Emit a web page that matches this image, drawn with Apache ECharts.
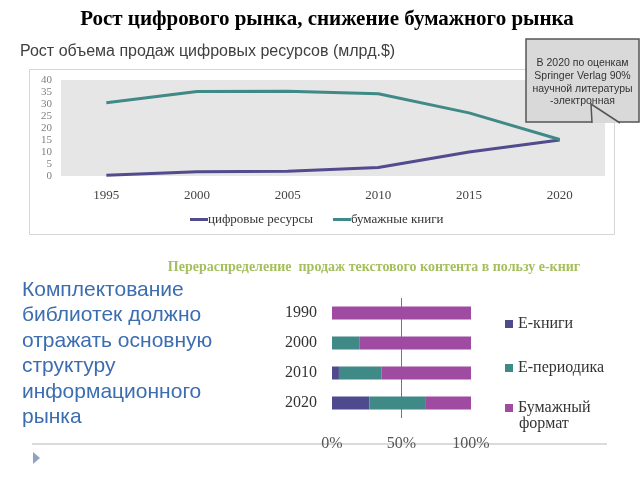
<!DOCTYPE html>
<html><head><meta charset="utf-8">
<script src="https://cdn.jsdelivr.net/npm/echarts@6/dist/echarts.min.js"></script>
<style>html,body{margin:0;padding:0;background:#fff}#c{width:640px;height:480px}</style>
</head><body><div id="c"></div>
<script>
// Line chart data
const lineYears = ['1995','2000','2005','2010','2015','2020'];
const digital = [0.3, 1.8, 2.0, 3.5, 10.0, 15.0];
const paper = [30.5, 35.2, 35.3, 34.3, 26.3, 15.2];
const lineYTicks = [0, 40, 5];
// Bar chart data
const barYears = ['1990','2000','2010','2020'];
const eBooks = [0, 0, 5, 27];
const ePeriodic = [0, 20, 30.5, 40];
const paperFormat = [100, 80, 64.5, 33];

const serif = 'Liberation Serif';
const sans = 'Liberation Sans';
const cPurple = '#524b8d', cTeal = '#3f8a86', cMagenta = '#9f4ba2';

const chart = echarts.init(document.getElementById('c'), null, {renderer:'canvas'});
chart.setOption({
  animation: false,
  grid: [
    {left: 61, right: 35, top: 80, height: 96, show: true, backgroundColor: '#e6e6e6', borderWidth: 0},
    {left: 332, width: 139, top: 298, height: 120}
  ],
  xAxis: [
    {gridIndex: 0, type: 'category', data: lineYears, boundaryGap: true,
     axisLine: {show: false}, axisTick: {show: false},
     axisLabel: {margin: 13, fontFamily: serif, fontSize: 13, color: '#444'}},
    {gridIndex: 1, type: 'value', min: 0, max: 100, interval: 50,
     axisLine: {show: false}, axisTick: {show: false}, splitLine: {show: false},
     axisLabel: {margin: 18, fontFamily: serif, fontSize: 16, color: '#555', formatter: '{value}%'}}
  ],
  yAxis: [
    {gridIndex: 0, type: 'value', min: lineYTicks[0], max: lineYTicks[1], interval: lineYTicks[2],
     axisLine: {show: false}, axisTick: {show: false}, splitLine: {show: false},
     axisLabel: {margin: 9, fontFamily: serif, fontSize: 11, color: '#808080'}},
    {gridIndex: 1, type: 'category', data: barYears, inverse: true,
     axisLine: {show: false}, axisTick: {show: false},
     axisLabel: {margin: 15, fontFamily: serif, fontSize: 16, color: '#333'}}
  ],
  legend: [
    {data: ['цифровые ресурсы','бумажные книги'], left: 190, top: 213, padding: 0, icon: 'rect', itemWidth: 18, itemHeight: 3, itemGap: 20,
     textStyle: {fontFamily: serif, fontSize: 13, color: '#333', padding: [0,0,0,-5]}},
    {data: ['Е-книги'], left: 505, top: 316, padding: 0, icon: 'rect', itemWidth: 8, itemHeight: 8,
     textStyle: {fontFamily: serif, fontSize: 16, color: '#333'}},
    {data: ['Е-периодика'], left: 505, top: 360, padding: 0, icon: 'rect', itemWidth: 8, itemHeight: 8,
     textStyle: {fontFamily: serif, fontSize: 16, color: '#333'}},
    {data: ['Бумажный формат'], left: 505, top: 400, padding: 0, icon: 'rect', itemWidth: 8, itemHeight: 8,
     formatter: () => 'Бумажный',
     textStyle: {fontFamily: serif, fontSize: 16, color: '#333'}}
  ],
  series: [
    {name: 'цифровые ресурсы', type: 'line', xAxisIndex: 0, yAxisIndex: 0, data: digital,
     showSymbol: false, symbol: 'none', lineStyle: {width: 3, color: cPurple}, itemStyle: {color: cPurple}},
    {name: 'бумажные книги', type: 'line', xAxisIndex: 0, yAxisIndex: 0, data: paper,
     showSymbol: false, symbol: 'none', lineStyle: {width: 3, color: cTeal}, itemStyle: {color: cTeal}},
    {name: 'Е-книги', type: 'bar', xAxisIndex: 1, yAxisIndex: 1, stack: 's', data: eBooks, barWidth: 13,
     itemStyle: {color: '#4e4a8d'}, z: 3,
     markLine: {silent: true, symbol: 'none', z: 1, label: {show: false},
       lineStyle: {color: '#777', width: 1, type: 'solid'}, data: [{xAxis: 50}]}},
    {name: 'Е-периодика', type: 'bar', xAxisIndex: 1, yAxisIndex: 1, stack: 's', data: ePeriodic, barWidth: 13,
     itemStyle: {color: cTeal}, z: 3},
    {name: 'Бумажный формат', type: 'bar', xAxisIndex: 1, yAxisIndex: 1, stack: 's', data: paperFormat, barWidth: 13,
     itemStyle: {color: cMagenta}, z: 3}
  ],
  graphic: [
    {type: 'rect', shape: {x: 29.5, y: 69.5, width: 585, height: 165}, style: {fill: 'none', stroke: '#d6d6d6', lineWidth: 1}, z: -10},
    {type: 'text', x: 327, y: 20, style: {text: 'Рост цифрового рынка, снижение бумажного рынка', fontFamily: serif, fontWeight: 'bold', fontSize: 21, fill: '#000', align: 'center', verticalAlign: 'middle'}},
    {type: 'text', x: 20, y: 52, style: {text: 'Рост объема продаж цифровых ресурсов (млрд.$)', fontFamily: sans, fontSize: 16, fill: '#404040', align: 'left', verticalAlign: 'middle'}},
    {type: 'rect', shape: {x: 526, y: 39, width: 113, height: 83}, style: {fill: '#d9d9d9', stroke: '#555', lineWidth: 1.5}, z: 10},
    {type: 'polygon', shape: {points: [[591,104],[592,123],[620,123]]}, style: {fill: '#d9d9d9', stroke: 'none'}, z: 11},
    {type: 'polyline', shape: {points: [[592,123],[591,104],[620,123]]}, style: {fill: 'none', stroke: '#555', lineWidth: 1.5}, z: 11},
    {type: 'text', x: 582.5, y: 57, style: {text: 'В 2020 по оценкам\nSpringer Verlag 90%\nнаучной литературы\n-электронная', fontFamily: sans, fontSize: 10.5, lineHeight: 12.7, fill: '#333', align: 'center', verticalAlign: 'top'}, z: 12},
    {type: 'text', x: 374, y: 267, style: {text: 'Перераспределение  продаж текстового контента в пользу е-книг', fontFamily: serif, fontWeight: 'bold', fontSize: 14, fill: '#a6bf5e', align: 'center', verticalAlign: 'middle'}},
    {type: 'text', x: 22, y: 277, style: {text: 'Комплектование\nбиблиотек должно\nотражать основную\nструктуру\nинформационного\nрынка', fontFamily: sans, fontSize: 21, lineHeight: 25.5, fill: '#3b6db0', align: 'left', verticalAlign: 'top'}},
    {type: 'text', x: 519, y: 424, style: {text: 'формат', fontFamily: serif, fontSize: 16, fill: '#333', align: 'left', verticalAlign: 'middle'}},
    {type: 'line', shape: {x1: 32, y1: 444, x2: 607, y2: 444}, style: {stroke: '#cfcfcf', lineWidth: 1.5}, z: -5},
    {type: 'polygon', shape: {points: [[33,452],[33,464],[40,458]]}, style: {fill: '#8fa3c4'}}
  ]
});
</script></body></html>
